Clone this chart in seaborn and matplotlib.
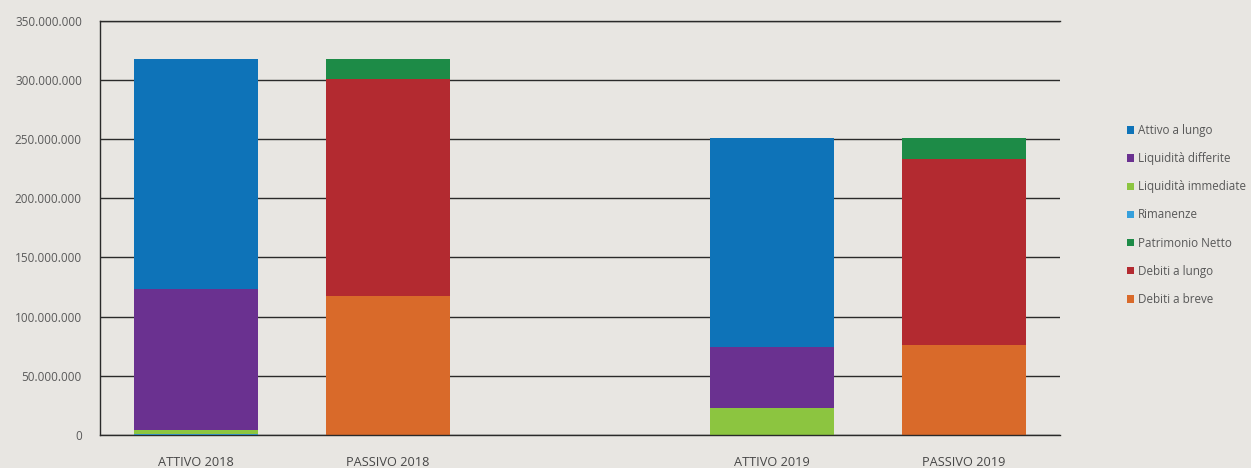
import matplotlib
matplotlib.use("Agg")
import matplotlib.pyplot as plt
from matplotlib.patches import Patch
from matplotlib.ticker import FixedLocator, FuncFormatter
import numpy as np
import pandas as pd
import seaborn as sns

# Balance-sheet columns (an empty slot separates the two years)
bars = ["ATTIVO 2018", "PASSIVO 2018", "", "ATTIVO 2019", "PASSIVO 2019"]

# Stacking order, bottom to top
series = [
    "Debiti a breve",
    "Debiti a lungo",
    "Patrimonio Netto",
    "Rimanenze",
    "Liquidità immediate",
    "Liquidità differite",
    "Attivo a lungo",
]

# Values in euro for each column, one list per series (same order as bars)
debiti_breve = [0, 117_500_000, 0, 0, 76_100_000]
debiti_lungo = [0, 183_200_000, 0, 0, 157_000_000]
patrimonio_netto = [0, 16_900_000, 0, 0, 17_700_000]
rimanenze = [1_000_000, 0, 0, 0, 0]
liquidita_immediate = [3_300_000, 0, 0, 22_500_000, 0]
liquidita_differite = [118_900_000, 0, 0, 52_100_000, 0]
attivo_lungo = [194_400_000, 0, 0, 176_200_000, 0]

values = [debiti_breve, debiti_lungo, patrimonio_netto, rimanenze,
          liquidita_immediate, liquidita_differite, attivo_lungo]

colors = {
    "Attivo a lungo": "#0e73b8",
    "Liquidità differite": "#6a3190",
    "Liquidità immediate": "#8cc540",
    "Rimanenze": "#36a0dc",
    "Patrimonio Netto": "#1d8b47",
    "Debiti a lungo": "#b32a30",
    "Debiti a breve": "#d96a2a",
}

legend_order = ["Attivo a lungo", "Liquidità differite", "Liquidità immediate",
                "Rimanenze", "Patrimonio Netto", "Debiti a lungo", "Debiti a breve"]

y_ticks = [0, 50_000_000, 100_000_000, 150_000_000, 200_000_000,
           250_000_000, 300_000_000, 350_000_000]

# Long-form table with cumulative tops for each stacked segment
rows = []
cum = np.zeros(len(bars))
for name, vals in zip(series, values):
    vals = np.asarray(vals, dtype=float)
    cum = cum + vals
    for b, v, top in zip(bars, vals, cum):
        if b and v > 0:
            rows.append({"bar": b, "series": name, "value": v, "top": top})
df = pd.DataFrame(rows)

sns.set_theme(style="white")
bg = "#e8e6e2"
plt.rcParams["font.family"] = ["Open Sans", "DejaVu Sans"]

fig = plt.figure(figsize=(12.51, 4.68), dpi=100, facecolor=bg)
ax = fig.add_axes([0.0799, 0.0705, 0.7674, 0.8853])
ax.set_facecolor(bg)

# Draw stacked segments top-down so each lower segment overlays the one above
for name in reversed(series):
    sub = df[df["series"] == name]
    if sub.empty:
        continue
    sns.barplot(data=sub, x="bar", y="top", order=bars, color=colors[name],
                saturation=1, width=0.65, errorbar=None, linewidth=0, ax=ax)

ax.set_xlim(-0.5, len(bars) - 0.5)
ax.set_ylim(0, 350_000_000)
ax.yaxis.set_major_locator(FixedLocator(y_ticks))
ax.yaxis.set_major_formatter(FuncFormatter(lambda v, p: f"{v:,.0f}".replace(",", ".")))
ax.grid(axis="y", color="#2a2a2a", linewidth=1.0)
ax.grid(axis="x", visible=False)
ax.set_axisbelow(True)

for side in ["left", "top", "bottom"]:
    ax.spines[side].set_visible(True)
    ax.spines[side].set_color("#2a2a2a")
    ax.spines[side].set_linewidth(1.0)
ax.spines["right"].set_visible(False)

ax.tick_params(axis="y", length=0, pad=13, labelsize=8.5, labelcolor="#5a5a5a")
ax.tick_params(axis="x", length=0, pad=15, labelsize=9.2, labelcolor="#474747")
ax.set_xlabel("")
ax.set_ylabel("")

handles = [Patch(facecolor=colors[n], edgecolor="none", label=n) for n in legend_order]
leg = fig.legend(handles=handles, loc="upper left", bbox_to_anchor=(1127 / 1251, 1 - 124 / 468),
                 frameon=False, fontsize=8.4, labelspacing=1.3, handlelength=0.6,
                 handleheight=0.6, handletextpad=0.3, borderaxespad=0, borderpad=0)
for t in leg.get_texts():
    t.set_color("#585858")

fig.savefig("out.png", dpi=100, facecolor=bg)
